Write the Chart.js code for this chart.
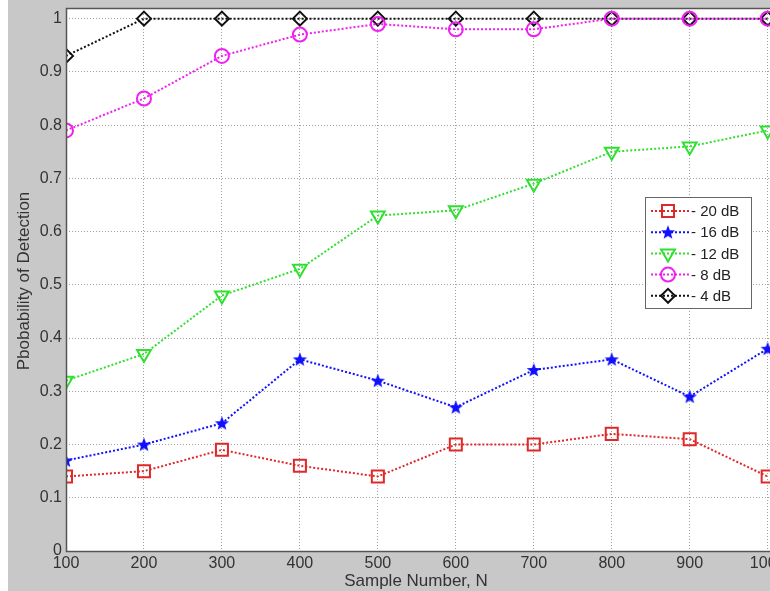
<!DOCTYPE html>
<html>
<head>
<meta charset="utf-8">
<script src="https://cdn.jsdelivr.net/npm/chart.js@4"></script>
<style>
  html, body { margin: 0; padding: 0; background: #fff; }
  #wrap { width: 770px; height: 591px; }
</style>
</head>
<body>
<div id="wrap"><canvas id="chart" width="770" height="591"></canvas></div>
<script>
// ========== DATA ==========
const sampleN = [100, 200, 300, 400, 500, 600, 700, 800, 900, 1000];
const snrLabels = ['- 20 dB', '- 16 dB', '- 12 dB', '- 8 dB', '- 4 dB'];
const pd20 = [0.14, 0.15, 0.19, 0.16, 0.14, 0.20, 0.20, 0.22, 0.21, 0.14];
const pd16 = [0.17, 0.20, 0.24, 0.36, 0.32, 0.27, 0.34, 0.36, 0.29, 0.38];
const pd12 = [0.32, 0.37, 0.48, 0.53, 0.63, 0.64, 0.69, 0.75, 0.76, 0.79];
const pd8  = [0.79, 0.85, 0.93, 0.97, 0.99, 0.98, 0.98, 1.00, 1.00, 1.00];
const pd4  = [0.93, 1.00, 1.00, 1.00, 1.00, 1.00, 1.00, 1.00, 1.00, 1.00];
const yTicks = [0, 0.1, 0.2, 0.3, 0.4, 0.5, 0.6, 0.7, 0.8, 0.9, 1];

const FONT = "'Liberation Sans', Arial, sans-serif";

// filled 5-point star for the -16 dB series
function makeStar(color, size) {
  const c = document.createElement('canvas');
  c.width = size; c.height = size;
  const g = c.getContext('2d');
  const cx = size / 2, cy = size / 2 + 0.5, R = size / 2 - 0.5, r = R * 0.42;
  g.beginPath();
  for (let i = 0; i < 10; i++) {
    const rad = i % 2 === 0 ? R : r;
    const a = -Math.PI / 2 + i * Math.PI / 5;
    g.lineTo(cx + rad * Math.cos(a), cy + rad * Math.sin(a));
  }
  g.closePath();
  g.fillStyle = color;
  g.fill();
  return c;
}
const starImg = makeStar('#1010ff', 16);

function pts(arr) { return arr.map((v, i) => ({ x: sampleN[i], y: v })); }

const series = [
  { label: snrLabels[0], data: pd20, color: '#e02828', style: 'rect', radius: 8.5, rot: 0 },
  { label: snrLabels[1], data: pd16, color: '#1010ff', style: starImg, radius: 8, rot: 0 },
  { label: snrLabels[2], data: pd12, color: '#30e030', style: 'triangle', radius: 8, rot: 180 },
  { label: snrLabels[3], data: pd8,  color: '#f020f0', style: 'circle', radius: 7, rot: 0 },
  { label: snrLabels[4], data: pd4,  color: '#111111', style: 'rectRot', radius: 7, rot: 0 }
];

const datasets = series.map(s => ({
  label: s.label,
  data: pts(s.data),
  borderColor: s.color,
  backgroundColor: 'rgba(0,0,0,0)',
  borderWidth: 2,
  borderDash: [2, 2],
  pointStyle: s.style,
  pointRadius: s.radius,
  pointRotation: s.rot,
  pointBorderColor: s.color,
  pointBackgroundColor: 'rgba(0,0,0,0)',
  pointBorderWidth: 2,
  tension: 0
}));

// ========== PLUGINS ==========
const frame = {
  id: 'frame',
  beforeDraw(chart) {
    const { ctx, chartArea: a } = chart;
    ctx.save();
    ctx.fillStyle = '#c8c8c8';
    ctx.fillRect(0, 0, chart.width, chart.height);
    ctx.fillStyle = '#ffffff';
    ctx.fillRect(0, 0, 8, chart.height);
    ctx.fillRect(a.left, a.top, a.right - a.left, a.bottom - a.top);
    ctx.restore();
  },
  afterDraw(chart) {
    const { ctx, chartArea: a } = chart;
    ctx.save();
    ctx.strokeStyle = '#555';
    ctx.lineWidth = 1.5;
    ctx.strokeRect(a.left + 0.5, a.top + 0.5, a.right - a.left + 4, a.bottom - a.top);

    // axis titles
    ctx.fillStyle = '#333';
    ctx.font = '17px ' + FONT;
    ctx.textAlign = 'center';
    ctx.textBaseline = 'middle';
    ctx.fillText('Sample Number, N', 416, 581);
    ctx.translate(24, 281);
    ctx.rotate(-Math.PI / 2);
    ctx.fillText('Pbobability of Detection', 0, 0);
    ctx.restore();

    // legend box
    ctx.save();
    const bx = 645, by = 197, bw = 106, bh = 111;
    ctx.fillStyle = '#fff';
    ctx.fillRect(bx, by, bw, bh);
    ctx.strokeStyle = '#666';
    ctx.lineWidth = 1;
    ctx.strokeRect(bx + 0.5, by + 0.5, bw, bh);
    ctx.font = '15px ' + FONT;
    ctx.textAlign = 'left';
    ctx.textBaseline = 'middle';
    series.forEach((s, i) => {
      const y = 211 + i * 21.2;
      ctx.strokeStyle = s.color;
      ctx.lineWidth = 2;
      ctx.setLineDash([2, 2]);
      ctx.beginPath();
      ctx.moveTo(651, y);
      ctx.lineTo(690, y);
      ctx.stroke();
      ctx.setLineDash([]);
      ctx.fillStyle = 'rgba(0,0,0,0)';
      ctx.strokeStyle = s.color;
      Chart.helpers.drawPoint(ctx, {
        pointStyle: s.style, radius: s.radius, rotation: s.rot, borderWidth: 2
      }, 668, y);
      ctx.fillStyle = '#222';
      ctx.fillText(s.label, 691, y + 1);
    });
    ctx.restore();
  }
};

// ========== CHART ==========
new Chart(document.getElementById('chart'), {
  type: 'line',
  data: { datasets },
  options: {
    responsive: false,
    animation: false,
    layout: { autoPadding: false, padding: { top: 8, right: 0, left: 0, bottom: 0 } },
    plugins: { legend: { display: false }, tooltip: { enabled: false } },
    scales: {
      x: {
        type: 'linear',
        min: 100,
        max: 1003,
        afterBuildTicks: s => { s.ticks = sampleN.map(v => ({ value: v })); },
        afterFit: s => { s.height = 40; s.paddingLeft = 0; s.paddingRight = 0; },
        grid: { color: '#a0a0a0', lineWidth: 1, drawTicks: false },
        border: { display: false, dash: [1, 2] },
        ticks: { padding: 3, color: '#333', font: { family: FONT, size: 16 }, maxRotation: 0,
          callback: v => String(v) }
      },
      y: {
        type: 'linear',
        min: 0,
        max: 1.02,
        afterBuildTicks: s => { s.ticks = yTicks.map(v => ({ value: v })); },
        afterFit: s => { s.width = 66; s.paddingTop = 0; s.paddingBottom = 0; },
        grid: { color: '#a0a0a0', lineWidth: 1, drawTicks: false },
        border: { display: false, dash: [1, 2] },
        ticks: { padding: 4, color: '#333', font: { family: FONT, size: 16 },
          callback: v => String(Math.round(v * 10) / 10) }
      }
    }
  },
  plugins: [frame]
});
</script>
</body>
</html>
